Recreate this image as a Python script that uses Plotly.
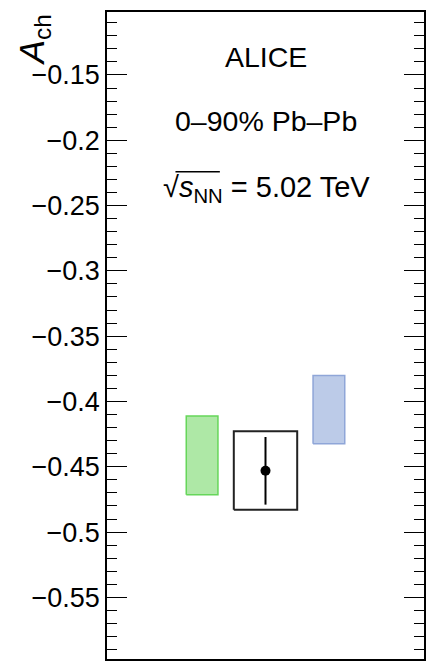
import plotly.graph_objects as go

# ---- data ----
categories = ["model_green", "ALICE", "model_blue"]
x_pos = [3, 5, 7]
box_half_width = [0.5, 1.0, 0.5]
box_low = [-0.4714, -0.4829, -0.4323]
box_high = [-0.4111, -0.4228, -0.3802]
point_value = -0.453
point_stat_low = -0.4790
point_stat_high = -0.4272

tick_vals = [-0.55, -0.5, -0.45, -0.4, -0.35, -0.3, -0.25, -0.2, -0.15]
tick_text = ["\u22120.55", "\u22120.5", "\u22120.45", "\u22120.4", "\u22120.35",
             "\u22120.3", "\u22120.25", "\u22120.2", "\u22120.15"]

FONT = "Liberation Sans, Arial, Helvetica, sans-serif"

fills = ["rgba(174,232,166,1)", "rgba(255,255,255,0)", "rgba(188,203,232,1)"]
edges = ["#66d65a", "#222222", "#8fa6d8"]
edge_w = [1.5, 2, 1.5]

fig = go.Figure()
for i in range(len(categories)):
    c, hw = x_pos[i], box_half_width[i]
    lo, hi = box_low[i], box_high[i]
    fig.add_trace(go.Scatter(
        x=[c - hw, c + hw, c + hw, c - hw, c - hw],
        y=[lo, lo, hi, hi, lo],
        mode="lines", fill="toself", fillcolor=fills[i],
        line=dict(color=edges[i], width=edge_w[i]),
        hoverinfo="skip", showlegend=False, name=categories[i]))

fig.add_trace(go.Scatter(
    x=[x_pos[1]], y=[point_value], mode="markers",
    marker=dict(color="black", size=10),
    error_y=dict(type="data", symmetric=False,
                 array=[point_stat_high - point_value],
                 arrayminus=[point_value - point_stat_low],
                 color="black", thickness=2, width=0),
    showlegend=False))

fig.update_xaxes(range=[0, 10], showgrid=False, zeroline=False,
                 showticklabels=False, ticks="",
                 showline=True, linecolor="black", linewidth=1.5, mirror=True)
fig.update_yaxes(range=[-0.5972, -0.1018], showgrid=False, zeroline=False,
                 tickvals=tick_vals, ticktext=tick_text,
                 ticks="inside", ticklen=20, tickwidth=1, tickcolor="black",
                 minor=dict(dtick=0.01, ticks="inside", ticklen=10,
                            tickwidth=1, tickcolor="black", tick0=-0.6),
                 showline=True, linecolor="black", linewidth=1.5, mirror="allticks",
                 tickfont=dict(family=FONT, size=27, color="black"))

ann_font = dict(family=FONT, size=28.5, color="black")
fig.add_annotation(text="ALICE", x=0.5, y=0.931, xref="paper", yref="paper",
                   xanchor="center", yanchor="middle", showarrow=False, font=ann_font)
fig.add_annotation(text="0\u201390% Pb\u2013Pb", x=0.5, y=0.831, xref="paper", yref="paper",
                   xanchor="center", yanchor="middle", showarrow=False, font=ann_font)
fig.add_annotation(text="\u221a<i>s</i><sub>NN</sub> = 5.02 TeV", x=0.502, y=0.727,
                   xref="paper", yref="paper", xanchor="center", yanchor="middle",
                   showarrow=False, font=dict(family=FONT, size=29, color="black"))
# overline of the square root
fig.add_shape(type="line", xref="paper", yref="paper",
              x0=0.216, x1=0.356, y0=0.753, y1=0.753,
              line=dict(color="black", width=1.5))
fig.add_annotation(text="<i>A</i><sub>ch</sub>", x=-0.232, y=0.957, xref="paper", yref="paper",
                   xanchor="center", yanchor="middle", textangle=-90, showarrow=False,
                   font=dict(family=FONT, size=35, color="black"))

fig.update_layout(width=433, height=661,
                  margin=dict(l=107, r=9, t=12, b=2),
                  paper_bgcolor="white", plot_bgcolor="white")

fig.write_html("out.html", config={"displayModeBar": False},
               post_script="document.body.style.margin='0';document.body.style.overflow='hidden';")
